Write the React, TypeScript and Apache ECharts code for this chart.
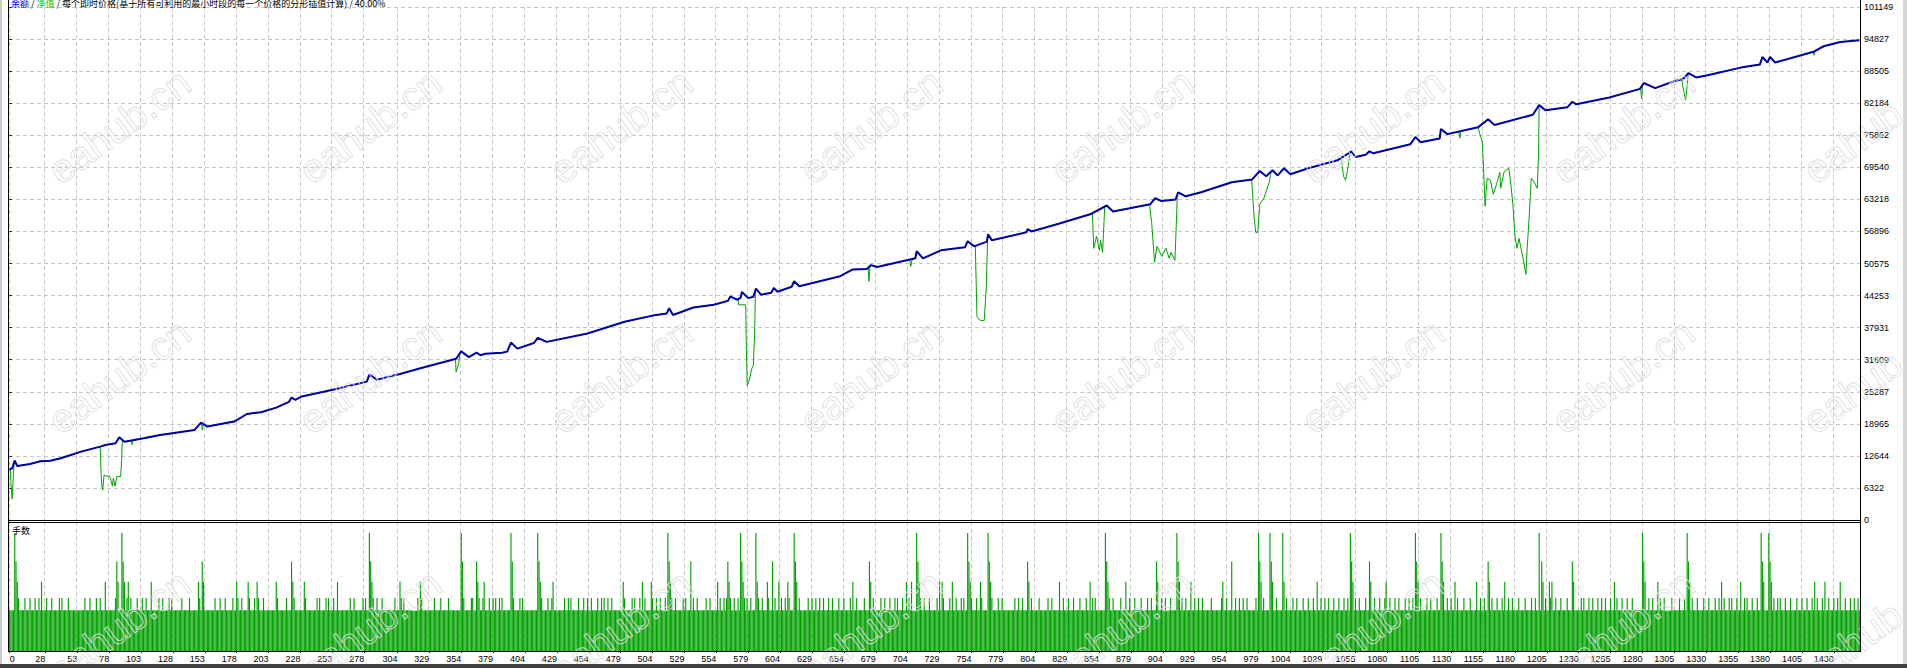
import React, { useEffect, useRef } from 'react';
import * as echarts from 'echarts';

// ---------- data ----------
const tradeCount = 1451;

const xTickLabels = [
  0, 28, 53, 78, 103, 128, 153, 178, 203, 228, 253, 278, 304, 329, 354, 379, 404, 429, 454, 479,
  504, 529, 554, 579, 604, 629, 654, 679, 704, 729, 754, 779, 804, 829, 854, 879, 904, 929, 954, 979,
  1004, 1029, 1055, 1080, 1105, 1130, 1155, 1180, 1205, 1230, 1255, 1280, 1305, 1330, 1355, 1380, 1405, 1430,
];

const yTickLabels = [
  '0', '6322', '12644', '18965', '25287', '31609', '37931', '44253', '50575',
  '56896', '63218', '69540', '75862', '82184', '88505', '94827', '101149',
];
const yMax = 101149;

// balance key points [trade, value]
const balance: [number, number][] = [
  [0, 10000], [2, 10200], [4, 11700], [6, 10650], [16, 11050], [24, 11600], [32, 11700], [40, 12170],
  [48, 12820], [56, 13480], [71, 14470], [75, 14800], [83, 15120], [86, 16310], [90, 15450], [105, 16110],
  [118, 16770], [145, 17760], [150, 19210], [155, 18420], [176, 19410], [186, 20900], [197, 21250],
  [209, 22150], [219, 23300], [221, 24150], [224, 23700], [229, 24360], [256, 25820], [280, 27280],
  [282, 28660], [288, 27680], [306, 28800], [322, 29930], [350, 31790], [354, 33250], [360, 32120],
  [366, 32990], [369, 32500], [373, 32780], [386, 32990], [390, 33200], [393, 34980], [398, 33790],
  [411, 34900], [414, 35920], [421, 35120], [453, 36780], [482, 39100], [504, 40300], [515, 40700],
  [517, 41760], [520, 40430], [536, 41900], [552, 42430], [563, 43200], [565, 44090], [570, 43430],
  [573, 43800], [574, 44950], [579, 43750], [583, 44000], [585, 45610], [589, 44420], [597, 44800],
  [599, 45740], [602, 45000], [613, 46000], [615, 47070], [619, 46080], [651, 48070], [661, 49400],
  [672, 49500], [675, 50260], [680, 49870], [698, 50900], [710, 51590], [711, 53000], [716, 51590],
  [730, 53170], [749, 53800], [751, 54980], [756, 53960], [766, 54900], [767, 56330], [770, 55140],
  [797, 56720], [798, 57350], [801, 56900], [823, 58460], [847, 60280], [860, 62010], [865, 60830],
  [878, 61460], [894, 62250], [898, 63440], [903, 62880], [914, 63200], [916, 64620], [922, 63830],
  [934, 64620], [958, 66600], [974, 67150], [980, 68810], [985, 67780], [990, 68970], [994, 67940],
  [999, 69360], [1004, 68180], [1018, 69360], [1041, 70940], [1052, 72680], [1055, 71570], [1063, 72000],
  [1066, 72700], [1069, 72300], [1098, 74100], [1102, 75520], [1106, 74500], [1121, 75200], [1122, 77100],
  [1127, 76080], [1151, 77420], [1159, 79000], [1164, 77890], [1194, 79900], [1199, 81800], [1204, 80780],
  [1221, 81370], [1225, 82470], [1228, 81960], [1254, 83300], [1278, 85000], [1281, 86170], [1290, 85160],
  [1302, 86250], [1312, 87010], [1316, 88100], [1322, 87260], [1331, 87680], [1357, 89200], [1372, 89790],
  [1374, 91300], [1378, 90200], [1380, 91300], [1384, 90210], [1414, 92310], [1422, 93410], [1435, 94250],
  [1450, 94600],
];

// equity drawdowns (equity equals balance outside these)
const equityDips: [number, number][][] = [
  [[0.5, 10100], [1, 7200], [2, 4140], [3, 9210], [3.5, 11300]],
  [[71, 14470], [71.5, 10520], [72, 7270], [73, 5920], [74, 8880], [76, 8600], [78, 8700], [79, 8220],
    [80.5, 6680], [81.3, 8220], [82.6, 6680], [84, 8550], [87, 8550], [87.8, 11840], [88.3, 15650]],
  [[95.5, 15650], [96, 14860], [96.8, 15700]],
  [[150.5, 19100], [151, 17760], [152, 18900]],
  [[349.5, 31750], [350, 29140], [352, 30800], [353, 32900]],
  [[571, 43550], [571.5, 42430], [577, 42430], [577.5, 34450], [578.2, 26480], [580, 27800],
    [581.7, 29800], [583, 30500], [584, 36790], [584.6, 45000]],
  [[673, 49700], [673.6, 47070], [674.5, 50000]],
  [[705.5, 51350], [706.4, 50000], [707.5, 51450]],
  [[757, 53900], [758.3, 40130], [760.8, 39340], [764, 39340], [765.6, 45820], [766.6, 55300]],
  [[848.8, 60350], [849.8, 53560], [852, 55930], [854.3, 53170], [855.2, 55140], [856.8, 52770], [858.4, 61700]],
  [[893.6, 62200], [895.2, 58700], [897.5, 50800], [899.4, 53960], [903.2, 51980], [906.4, 53560],
    [909, 51590], [910.3, 52770], [913.5, 51190], [915.4, 64200]],
  [[973.6, 67150], [975.5, 59880], [976.8, 56720], [978.4, 56720], [980, 62250], [983.2, 63440],
    [987.4, 66600], [988.5, 68300]],
  [[1044, 71200], [1045.6, 67780], [1047.2, 67000], [1048.8, 68970], [1050.4, 71800]],
  [[1136, 76550], [1136.8, 75290], [1137.6, 76600]],
  [[1151.2, 77420], [1154.4, 74500], [1155.4, 69360], [1156.6, 61860], [1158.2, 67390], [1160.8, 67000],
    [1163, 64230], [1165.6, 66200], [1168.2, 68580], [1168.8, 65410], [1171.4, 68580], [1175.2, 69360],
    [1176.8, 66200], [1178.4, 62250], [1180, 55930], [1181.6, 53560], [1183.2, 55540], [1186.4, 51590],
    [1188.6, 48430], [1189.6, 53560], [1191.2, 59880], [1192.8, 67390], [1195, 66650], [1197.5, 65380],
    [1198.5, 72000], [1199, 81800]],
  [[1278.6, 85100], [1279.3, 83050], [1280, 85600]],
  [[1310.8, 86950], [1311.5, 85580], [1313.8, 82800], [1315.1, 85920], [1315.8, 87900]],
  [[1413.8, 92250], [1414.4, 91640], [1415, 92340]],
];

// lot sizes: most trades at the base lot, these trades larger
const baseLot = 0.1;
const lots013 = [
  7, 12, 16, 20, 23, 29, 33, 39, 41, 46, 59, 63, 68, 71, 83, 92, 95, 100, 104, 107, 117, 120, 125, 127, 135,
  141, 149, 161, 165, 169, 175, 179, 182, 188, 192, 195, 199, 210, 217, 223, 232, 241, 243, 248, 250, 254,
  267, 270, 277, 279, 285, 288, 292, 302, 307, 309, 320, 323, 333, 338, 344, 356, 362, 363, 368, 371, 376,
  379, 381, 384, 386, 395, 400, 402, 417, 422, 425, 435, 438, 440, 446, 450, 453, 456, 461, 464, 466, 469,
  472, 482, 488, 490, 494, 498, 504, 507, 510, 514, 519, 522, 528, 530, 536, 539, 546, 549, 557, 560, 562,
  565, 568, 571, 576, 578, 581, 587, 590, 595, 600, 605, 608, 611, 619, 626, 629, 632, 635, 638, 642, 645,
  650, 654, 659, 664, 670, 677, 683, 686, 690, 694, 696, 700, 705, 714, 717, 721, 727, 732, 737, 742, 746,
  748, 754, 758, 762, 770, 775, 778, 788, 791, 794, 801, 807, 814, 817, 826, 830, 834, 839, 844, 849, 851,
  862, 865, 871, 878, 882, 887, 892, 895, 903, 906, 910, 919, 922, 929, 932, 935, 942, 950, 954, 961, 964,
  967, 970, 977, 983, 993, 1001, 1006, 1009, 1014, 1018, 1022, 1028, 1031, 1034, 1038, 1042, 1046, 1049,
  1055, 1058, 1063, 1070, 1074, 1078, 1082, 1086, 1089, 1094, 1097, 1100, 1106, 1111, 1114, 1119, 1127,
  1130, 1135, 1140, 1145, 1153, 1156, 1162, 1166, 1170, 1175, 1178, 1183, 1188, 1193, 1196, 1204, 1208,
  1212, 1216, 1221, 1232, 1234, 1238, 1241, 1245, 1248, 1251, 1255, 1260, 1264, 1268, 1272, 1285, 1288,
  1294, 1297, 1303, 1309, 1313, 1319, 1323, 1328, 1332, 1337, 1340, 1344, 1348, 1350, 1354, 1360, 1362,
  1366, 1370, 1383, 1386, 1388, 1392, 1396, 1401, 1405, 1409, 1413, 1417, 1421, 1426, 1430, 1433, 1439,
  1443, 1446, 1449,
];
const lots017 = [
  6, 25, 75, 85, 90, 93, 111, 148, 152, 178, 187, 194, 209, 222, 231, 257, 284, 306, 322, 367, 372, 416,
  426, 481, 496, 503, 518, 555, 564, 575, 586, 594, 603, 610, 617, 661, 675, 703, 707, 713, 729, 731, 739,
  753, 761, 769, 799, 823, 847, 861, 875, 900, 917, 926, 951, 981, 990, 999, 1025, 1053, 1067, 1079, 1104,
  1124, 1133, 1150, 1160, 1172, 1202, 1207, 1209, 1226, 1258, 1282, 1292, 1317, 1342, 1357, 1375, 1381,
  1415, 1423, 1435,
];
const lots022 = [
  5, 84, 89, 151, 221, 283, 355, 366, 394, 415, 517, 534, 563, 574, 598, 616, 674, 712, 752, 768, 798, 860,
  899, 916, 958, 980, 989, 1052, 1066, 1103, 1123, 1159, 1201, 1225, 1281, 1316, 1374, 1380,
];
const lots029 = [
  4, 88, 282, 354, 393, 414, 516, 573, 585, 615, 711, 751, 767, 859, 915, 979, 988, 998, 1051, 1102, 1122,
  1199, 1280, 1315, 1373, 1379,
];

const legendText =
  '{b|余额} / {g|净值} / 每个即时价格(基于所有可利用的最小时段的每一个价格的分形插值计算) / 40.00%';
const lotsTitle = '手数';
const watermark = 'eahub.cn';

// ---------- layout ----------
const W = 1907;
const H = 668;
const plotL = 9;
const plotR = 1860;
const topY0 = 7;
const topY1 = 520;
const botY0 = 522;
const botY1 = 651;
const wmCols = [119, 370, 621, 871, 1122, 1373, 1623, 1874];
const wmRows = [126, 376, 627];

const CJK = '"Noto Sans CJK SC", "Noto Sans", sans-serif';
const LAT = '"Liberation Sans", Arial, sans-serif';

export default function App() {
  const ref = useRef<HTMLDivElement>(null);

  useEffect(() => {
    if (!ref.current) return;
    const chart = echarts.init(ref.current, undefined, { renderer: 'svg' });

    const cats = Array.from({ length: tradeCount }, (_, i) => String(i));
    const labelSet = new Set(xTickLabels);
    const atLabel = (idx: number) => labelSet.has(idx);

    const lots = Array.from({ length: tradeCount }, () => baseLot);
    lots013.forEach((i) => (lots[i] = 0.13));
    lots017.forEach((i) => (lots[i] = 0.17));
    lots022.forEach((i) => (lots[i] = 0.22));
    lots029.forEach((i) => (lots[i] = 0.29));

    const ranges = equityDips.map((d) => [d[0][0], d[d.length - 1][0]]);
    const equity = balance
      .filter(([x]) => !ranges.some(([a, b]) => x >= a && x <= b))
      .concat(...equityDips)
      .sort((p, q) => p[0] - q[0]);

    const yStep = yMax / 16;
    const dash = { color: '#c6c6c6', width: 1, type: [4, 3] as number[] };

    const graphics: any[] = [
      { type: 'rect', shape: { x: 0, y: 0, width: 2, height: 664 }, style: { fill: '#c2cbd8' }, z: 120, silent: true },
      { type: 'rect', shape: { x: 1903, y: 0, width: 4, height: 664 }, style: { fill: '#d6d6d6' }, z: 120, silent: true },
      { type: 'rect', shape: { x: 0, y: 664, width: W, height: 4 }, style: { fill: '#404040' }, z: 120, silent: true },
      { type: 'line', shape: { x1: 8.5, y1: 0, x2: 8.5, y2: botY1 + 1 }, style: { stroke: '#000', lineWidth: 1 }, z: 120, silent: true },
      { type: 'line', shape: { x1: plotR + 0.5, y1: 0, x2: plotR + 0.5, y2: botY1 + 1 }, style: { stroke: '#000', lineWidth: 1 }, z: 120, silent: true },
      { type: 'line', shape: { x1: 8, y1: topY1 + 0.5, x2: plotR + 1, y2: topY1 + 0.5 }, style: { stroke: '#000', lineWidth: 1 }, z: 120, silent: true },
      { type: 'line', shape: { x1: 8, y1: botY0 + 0.5, x2: plotR + 1, y2: botY0 + 0.5 }, style: { stroke: '#000', lineWidth: 1 }, z: 120, silent: true },
      { type: 'line', shape: { x1: 8, y1: botY1 + 0.5, x2: plotR + 1, y2: botY1 + 0.5 }, style: { stroke: '#000', lineWidth: 1 }, z: 120, silent: true },
      {
        type: 'text', x: 11, y: -1, z: 130, silent: true,
        style: {
          text: legendText, fill: '#000', fontSize: 9, fontFamily: CJK,
          textVerticalAlign: 'top', verticalAlign: 'top',
          rich: {
            b: { fill: '#0000ff', fontSize: 9, fontFamily: CJK },
            g: { fill: '#00c800', fontSize: 9, fontFamily: CJK },
          },
        },
      },
      {
        type: 'text', x: 12, y: 526, z: 130, silent: true,
        style: { text: lotsTitle, fill: '#000', fontSize: 9, fontFamily: CJK, textVerticalAlign: 'top', verticalAlign: 'top' },
      },
    ];
    wmRows.forEach((y) =>
      wmCols.forEach((x) =>
        graphics.push({
          type: 'text', x, y, rotation: (36 * Math.PI) / 180, z: 110, silent: true,
          style: {
            text: watermark, fill: 'none', stroke: 'rgba(222,222,222,0.9)', lineWidth: 1,
            fontSize: 40, fontFamily: LAT,
            textAlign: 'center', align: 'center', textVerticalAlign: 'middle', verticalAlign: 'middle',
          },
        }),
      ),
    );

    chart.setOption({
      animation: false,
      backgroundColor: '#ffffff',
      grid: [
        { left: plotL, top: topY0, width: plotR - plotL, height: topY1 - topY0, outerBoundsMode: 'none' },
        { left: plotL, top: botY0, width: plotR - plotL, height: botY1 - botY0, outerBoundsMode: 'none' },
      ],
      xAxis: [
        {
          type: 'category', gridIndex: 0, data: cats, boundaryGap: true,
          axisLine: { show: false }, axisTick: { show: false }, axisLabel: { show: false },
          splitLine: { show: true, interval: atLabel, lineStyle: dash },
        },
        { type: 'value', gridIndex: 0, min: -0.5, max: tradeCount - 0.5, show: false },
        {
          type: 'category', gridIndex: 1, data: cats, boundaryGap: true,
          axisLine: { show: false },
          axisTick: { show: true, interval: atLabel, alignWithLabel: true, length: 2, lineStyle: { color: '#000' } },
          axisLabel: {
            interval: atLabel, align: 'right', alignMinLabel: 'left', margin: 3,
            fontSize: 9, fontFamily: LAT, color: '#000', hideOverlap: false,
          },
          splitLine: { show: true, interval: atLabel, lineStyle: dash },
        },
      ],
      yAxis: [
        {
          type: 'value', gridIndex: 0, position: 'right', min: 0, max: yMax, interval: yStep,
          axisLine: { show: false },
          axisTick: { show: true, length: 2, lineStyle: { color: '#000' } },
          axisLabel: {
            margin: 4, fontSize: 9, fontFamily: LAT, color: '#000',
            formatter: (v: number) => yTickLabels[Math.round(v / yStep)] ?? '',
          },
          splitLine: { show: true, lineStyle: dash },
        },
        { type: 'value', gridIndex: 1, min: 0, max: 0.317, show: false },
      ],
      series: [
        {
          name: '净值', type: 'line', xAxisIndex: 1, yAxisIndex: 0, data: equity,
          showSymbol: false, symbol: 'none', lineStyle: { color: '#00a400', width: 1 },
          itemStyle: { color: '#00a400' }, z: 2, silent: true,
        },
        {
          name: '余额', type: 'line', xAxisIndex: 1, yAxisIndex: 0, data: balance,
          showSymbol: false, symbol: 'none', lineStyle: { color: '#0000a8', width: 2 },
          itemStyle: { color: '#0000a8' }, z: 3, silent: true,
        },
        {
          name: '手数', type: 'bar', xAxisIndex: 2, yAxisIndex: 1, data: lots,
          barCategoryGap: '10%', itemStyle: { color: '#00a000' }, z: 2, silent: true,
        },
      ],
      graphic: { elements: graphics },
    });

    return () => chart.dispose();
  }, []);

  return (
    <div
      ref={ref}
      style={{ position: 'absolute', left: 0, top: 0, width: W, height: H, background: '#fff' }}
    />
  );
}
